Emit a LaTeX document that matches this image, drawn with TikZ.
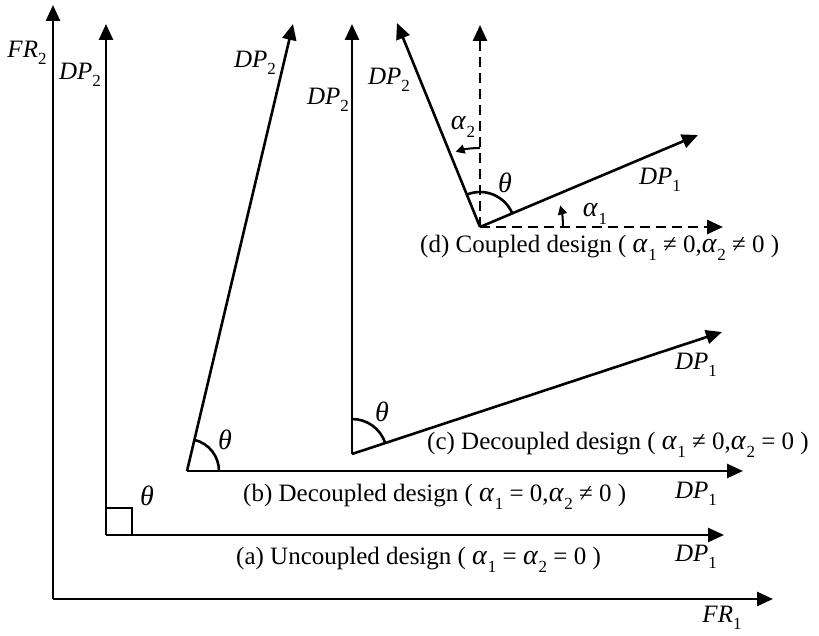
\documentclass[tikz,border=0pt]{standalone}
\usepackage{fontspec}
\setmainfont{Liberation Serif}
\usetikzlibrary{arrows.meta}
\newcommand{\sbs}[1]{\raisebox{-0.3em}{\fontsize{17pt}{17pt}\selectfont #1}}
\newcommand{\vlab}[3]{\textit{#1#2}\sbs{#3}}
\newcommand{\ga}[1]{{\fontsize{28pt}{28pt}\selectfont\textit{α}}\kern0.5pt\sbs{#1}}
\newcommand{\gth}{{\fontsize{28pt}{28pt}\selectfont\textit{θ}}}
\tikzset{
  vec/.style={line width=2.6pt,-{Triangle[length=16pt,width=14pt]}},
  dvec/.style={vec,dash pattern=on 10pt off 6pt},
  ang/.style={line width=2.6pt},
  small/.style={line width=2pt,-{Triangle[length=9pt,width=9pt]}},
  lab/.style={inner sep=0pt},
  captxt/.style={inner sep=0pt,anchor=west}
}
\begin{document}
\begin{tikzpicture}[x=1pt,y=-1pt,font=\fontsize{25pt}{27pt}\selectfont]
\useasboundingbox (0,0) rectangle (819,636);
% FR axes
\coordinate (O) at (53,599);
\coordinate (FR2t) at (53,5);
\coordinate (FR1t) at (773,599);
\draw[vec] (O) -- (FR2t);
\draw[vec] (O) -- (FR1t);
\node[lab] (fr2) at (27,53) {\vlab{F}{R}{2}};
\node[lab] (fr1) at (722,618) {\vlab{F}{R}{1}};
% (a)
\coordinate (A) at (106,535);
\coordinate (A2) at (106,24);
\coordinate (A1) at (724,535);
\draw[vec] (A) -- (A2);
\draw[vec] (A) -- (A1);
\draw[ang] (106,508) -- (132,508) -- (132,535);
\node[lab] (tha) at (147,496) {\gth};
\node[lab] (dpa2) at (80,75) {\vlab{D}{P}{2}};
\node[lab] (dpa1) at (696,557) {\vlab{D}{P}{1}};
\node[captxt] (capa) at (236,560) {(a) Uncoupled design ( \ga{1} = \ga{2} = 0 )};
% (b)
\coordinate (B) at (187,471);
\coordinate (B2) at (293,24);
\coordinate (B1) at (743,471);
\draw[vec] (B) -- (B2);
\draw[vec] (B) -- (B1);
\draw[ang] (B) ++(0:32) arc[start angle=0,end angle=-76.7,radius=32];
\node[lab] (thb) at (225,440) {\gth};
\node[lab] (dpb2) at (255,63) {\vlab{D}{P}{2}};
\node[lab] (dpb1) at (696,494) {\vlab{D}{P}{1}};
\node[captxt] (capb) at (243,497) {(b) Decoupled design ( \ga{1} = 0,\ga{2} ≠ 0 )};
% (c)
\coordinate (C) at (352,454);
\coordinate (C2) at (352,24);
\coordinate (C1) at (722,332);
\draw[vec] (C) -- (C2);
\draw[vec] (C) -- (C1);
\draw[ang] (C) ++(-18.2:35) arc[start angle=-18.2,end angle=-90,radius=35];
\node[lab] (thc) at (382,412) {\gth};
\node[lab] (dpc2) at (328,100) {\vlab{D}{P}{2}};
\node[lab] (dpc1) at (696,365) {\vlab{D}{P}{1}};
\node[captxt] (capc) at (427,445) {(c) Decoupled design ( \ga{1} ≠ 0,\ga{2} = 0 )};
% (d)
\coordinate (D) at (480,227);
\coordinate (Dv) at (480,25);
\coordinate (Dh) at (723,227);
\coordinate (D2) at (397,23);
\coordinate (D1) at (698,135);
\draw[dvec] (D) -- (Dv);
\draw[dvec] (D) -- (Dh);
\draw[vec] (D) -- (D2);
\draw[vec] (D) -- (D1);
\draw[ang] (D) ++(-22.9:35) arc[start angle=-22.9,end angle=-112.1,radius=35];
\draw[small] (D) ++(0:83) arc[start angle=0,end angle=-15,radius=83];
\draw[small] (D) ++(-90:79) arc[start angle=-90,end angle=-108,radius=79];
\node[lab] (thd) at (505,183) {\gth};
\node[lab] (al2) at (463,127) {\ga{2}};
\node[lab] (al1) at (595,214) {\ga{1}};
\node[lab] (dpd2) at (389,80) {\vlab{D}{P}{2}};
\node[lab] (dpd1) at (660,180) {\vlab{D}{P}{1}};
\node[captxt] (capd) at (420,248) {(d) Coupled design ( \ga{1} ≠ 0,\ga{2} ≠ 0 )};
\end{tikzpicture}
\end{document}
